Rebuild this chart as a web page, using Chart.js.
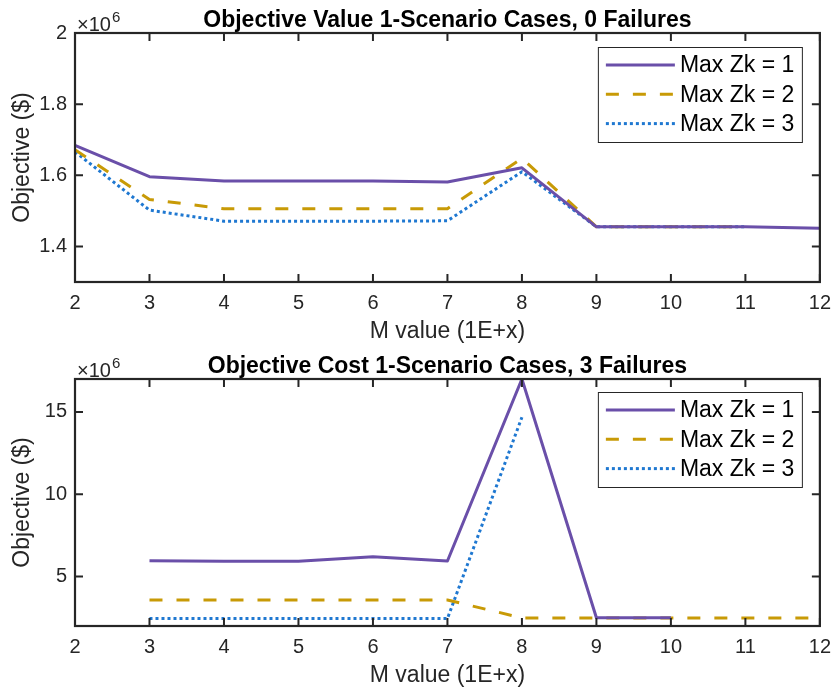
<!DOCTYPE html>
<html>
<head>
<meta charset="utf-8">
<script src="https://cdn.jsdelivr.net/npm/chart.js@4.4.1/dist/chart.umd.min.js"></script>
<style>
  html, body { margin: 0; padding: 0; background: #fff; }
  #wrap { position: relative; width: 840px; height: 689px; overflow: hidden; background: #fff; }
  canvas { position: absolute; left: 0; }
  #c1 { top: 0; }
  #c2 { top: 345px; }
</style>
</head>
<body>
<div id="wrap">
  <canvas id="c1" width="840" height="345"></canvas>
  <canvas id="c2" width="840" height="344"></canvas>
</div>
<script>
// ---- Data (objective in millions of $, M value exponent on x) ----
const seriesLabels = ['Max Zk = 1', 'Max Zk = 2', 'Max Zk = 3'];

// 0 failures
const m0Zk1 = [2, 3, 4, 5, 6, 7, 8, 9, 10, 11, 12];
const obj0Zk1 = [1.684, 1.596, 1.584, 1.584, 1.584, 1.581, 1.621, 1.455, 1.455, 1.455, 1.451];
const m0Zk2 = [2, 3, 4, 5, 6, 7, 8, 9, 10, 11];
const obj0Zk2 = [1.672, 1.532, 1.506, 1.506, 1.506, 1.506, 1.648, 1.455, 1.455, 1.455];
const m0Zk3 = [2, 3, 4, 5, 6, 7, 8, 9, 10, 11];
const obj0Zk3 = [1.666, 1.502, 1.471, 1.471, 1.471, 1.472, 1.610, 1.455, 1.455, 1.455];

// 3 failures
const m3Zk1 = [3, 4, 5, 6, 7, 8, 9, 10];
const obj3Zk1 = [5.97, 5.93, 5.93, 6.21, 5.95, 17.0, 2.50, 2.50];
const m3Zk2 = [3, 4, 5, 6, 7, 8, 9, 10, 11, 12];
const obj3Zk2 = [3.58, 3.58, 3.58, 3.58, 3.58, 2.49, 2.49, 2.49, 2.49, 2.49];
const m3Zk3 = [3, 4, 5, 6, 7, 8];
const obj3Zk3 = [2.45, 2.45, 2.45, 2.45, 2.45, 14.68];

// Axis ticks
const mTicks = [2, 3, 4, 5, 6, 7, 8, 9, 10, 11, 12];
const yTicks0 = [1.4, 1.6, 1.8, 2.0];
const yTicks3 = [5, 10, 15];

// ---- Styling ----
const FONT = "'Liberation Sans', Arial, Helvetica, sans-serif";
const AXIS_COLOR = '#262626';
const styles = [
  { color: '#6a4fa9', dash: [] },
  { color: '#c89a06', dash: [13, 14] },
  { color: '#1f78d1', dash: [3, 3] }
];

Chart.defaults.font.family = FONT;
Chart.defaults.color = AXIS_COLOR;

function points(xs, ys) {
  return xs.map((x, i) => ({ x: x, y: ys[i] }));
}

// Box, inward ticks, title, exponent label and in-axes legend
const matlabFrame = {
  id: 'matlabFrame',
  afterDraw(chart, args, opts) {
    const { ctx, chartArea: a } = chart;
    const xs = chart.scales.x, ys = chart.scales.y;
    ctx.save();

    // tick marks on all four sides
    ctx.strokeStyle = AXIS_COLOR;
    ctx.lineWidth = 2;
    ctx.beginPath();
    xs.ticks.forEach(t => {
      const px = xs.getPixelForValue(t.value);
      ctx.moveTo(px, a.bottom); ctx.lineTo(px, a.bottom - 8);
      ctx.moveTo(px, a.top); ctx.lineTo(px, a.top + 8);
    });
    ys.ticks.forEach(t => {
      const py = ys.getPixelForValue(t.value);
      ctx.moveTo(a.left, py); ctx.lineTo(a.left + 8, py);
      ctx.moveTo(a.right, py); ctx.lineTo(a.right - 8, py);
    });
    ctx.stroke();

    // axes box
    ctx.lineWidth = 2.2;
    ctx.strokeRect(a.left, a.top, a.right - a.left, a.bottom - a.top);

    // title
    ctx.fillStyle = '#000';
    ctx.font = 'bold 23px ' + FONT;
    ctx.textAlign = 'center';
    ctx.textBaseline = 'alphabetic';
    ctx.fillText(opts.title, (a.left + a.right) / 2, a.top - 6);

    // exponent label
    ctx.fillStyle = AXIS_COLOR;
    ctx.textAlign = 'left';
    ctx.font = '20px ' + FONT;
    ctx.fillText('\u00d710', a.left + 2, a.top - 2);
    const w = ctx.measureText('\u00d710').width;
    ctx.font = '15px ' + FONT;
    ctx.fillText('6', a.left + 3 + w, a.top - 11);

    // legend
    const bw = 204, bh = 95;
    const bx = a.right - 18 - bw, by = a.top + opts.legendTop;
    ctx.fillStyle = '#fff';
    ctx.fillRect(bx, by, bw, bh);
    ctx.strokeStyle = AXIS_COLOR;
    ctx.lineWidth = 1;
    ctx.strokeRect(bx + 0.5, by + 0.5, bw, bh);
    ctx.font = '23px ' + FONT;
    ctx.textBaseline = 'middle';
    chart.data.datasets.forEach((ds, i) => {
      const ry = by + 18 + i * 29.3;
      ctx.strokeStyle = ds.borderColor;
      ctx.lineWidth = ds.borderWidth;
      ctx.setLineDash(ds.borderDash || []);
      ctx.beginPath();
      ctx.moveTo(bx + 8, ry);
      ctx.lineTo(bx + 77, ry);
      ctx.stroke();
      ctx.setLineDash([]);
      ctx.fillStyle = '#000';
      ctx.fillText(ds.label, bx + 82, ry + 1);
    });

    ctx.restore();
  }
};

function makeChart(canvasId, cfg) {
  const datasets = cfg.series.map((s, i) => ({
    label: seriesLabels[i],
    data: points(s[0], s[1]),
    borderColor: styles[i].color,
    backgroundColor: styles[i].color,
    borderWidth: 3,
    borderDash: styles[i].dash,
    borderCapStyle: 'butt',
    borderJoinStyle: 'round',
    pointRadius: 0,
    tension: 0,
    fill: false
  }));
  return new Chart(document.getElementById(canvasId), {
    type: 'line',
    data: { datasets: datasets },
    options: {
      responsive: false,
      animation: false,
      devicePixelRatio: 1,
      layout: { padding: { top: cfg.top, right: 14, left: 0, bottom: 0 } },
      plugins: {
        legend: { display: false },
        title: { display: false },
        tooltip: { enabled: false },
        matlabFrame: { title: cfg.title, legendTop: cfg.legendTop }
      },
      scales: {
        x: {
          type: 'linear',
          min: 2, max: 12,
          afterBuildTicks: s => { s.ticks = mTicks.map(v => ({ value: v })); },
          ticks: { font: { size: 20 }, color: AXIS_COLOR, padding: 9, maxRotation: 0, autoSkip: false,
                   callback: v => String(v) },
          grid: { display: false, drawTicks: false },
          border: { display: false },
          title: { display: true, text: 'M value (1E+x)', font: { size: 23 }, color: AXIS_COLOR,
                   padding: { top: 0, bottom: 0 } },
          afterFit: s => { s.height = 63; }
        },
        y: {
          type: 'linear',
          min: cfg.yMin, max: cfg.yMax,
          afterBuildTicks: s => { s.ticks = cfg.yTicks.map(v => ({ value: v })); },
          ticks: { font: { size: 20 }, color: AXIS_COLOR, padding: 8,
                   callback: v => String(Number(v.toFixed(1))) },
          grid: { display: false, drawTicks: false },
          border: { display: false },
          title: { display: true, text: 'Objective ($)', font: { size: 23 }, color: AXIS_COLOR,
                   padding: { top: 9, bottom: 0 } },
          afterFit: s => { s.width = 75; }
        }
      }
    },
    plugins: [matlabFrame]
  });
}

makeChart('c1', {
  title: 'Objective Value 1-Scenario Cases, 0 Failures',
  top: 33, legendTop: 14,
  yMin: 1.3, yMax: 2.0, yTicks: yTicks0,
  series: [[m0Zk1, obj0Zk1], [m0Zk2, obj0Zk2], [m0Zk3, obj0Zk3]]
});

makeChart('c2', {
  title: 'Objective Cost 1-Scenario Cases, 3 Failures',
  top: 34, legendTop: 13,
  yMin: 2, yMax: 17, yTicks: yTicks3,
  series: [[m3Zk1, obj3Zk1], [m3Zk2, obj3Zk2], [m3Zk3, obj3Zk3]]
});
</script>
</body>
</html>
